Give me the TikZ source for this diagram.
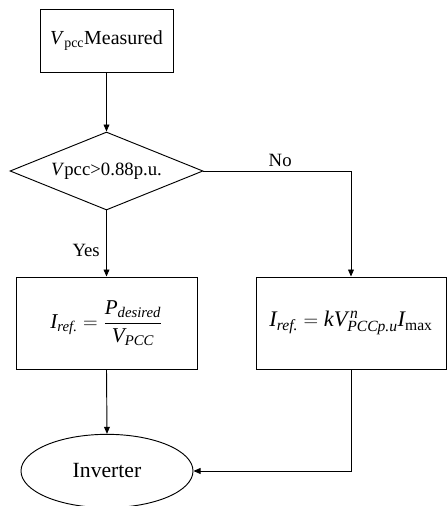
\documentclass[tikz,border=0pt]{standalone}
\usepackage{amsmath}
\usepackage{fontspec}
\setmainfont{Liberation Serif}
\usetikzlibrary{arrows.meta, shapes.geometric}

\begin{document}
\begin{tikzpicture}[>={Triangle[length=6pt, width=5pt]}, line width=0.8pt,
    x=0.03cm, y=-0.03cm,
    blockbox/.style={draw, rectangle, inner sep=2pt,
      font=\fontsize{17}{20}\selectfont},
    decision/.style={draw, diamond, inner sep=0pt, aspect=2.47,
      minimum width=5.79cm, minimum height=2.34cm,
      font=\fontsize{16}{19}\selectfont},
    terminal/.style={draw, ellipse, inner sep=0pt,
      minimum width=5.16cm, minimum height=2.2cm,
      font=\fontsize{18.5}{22}\selectfont},
    lbl/.style={font=\fontsize{16}{19}\selectfont}]
  \useasboundingbox (0,0) rectangle (447,506);

  % Blocks
  \node[blockbox, minimum width=3.99cm, minimum height=1.89cm]
    (meas) at (106.5,40.5) {\textit{V}\textsubscript{pcc}Measured};
  \node[decision] (cmp) at (106.5,171) {\textit{V}pcc>0.88p.u.};
  \node[blockbox, minimum width=5.43cm, minimum height=2.76cm,
      font=\fontsize{18}{21}\selectfont]
    (iyes) at (106.5,323)
    {$\textit{I}_{\textit{ref.}} = \dfrac{\textit{P}_{\textit{desired}}}{\textit{V}_{\textit{PCC}}}$};
  \node[blockbox, minimum width=5.7cm, minimum height=2.76cm,
      font=\fontsize{19}{22}\selectfont]
    (ino) at (351,323)
    {$\textit{I}_{\textit{ref.}} = \textit{kV}^{\,\textit{n}}_{\textit{PCCp.u}}\textit{I}_{\text{max}}$};
  \node[terminal] (inv) at (107,471) {Inverter};

  % Connectors
  \draw[->] (meas.south) -- (cmp.north);
  \draw[->] (cmp.south) -- node[lbl, left, pos=0.6, xshift=-2pt] {Yes} (iyes.north);
  \draw[->] (cmp.east) -| node[lbl, above, pos=0.26] {No} (ino.north);
  \draw[->] (iyes.south) -- (inv.north);
  \draw[->] (ino.south) |- (inv.east);
\end{tikzpicture}
\end{document}
